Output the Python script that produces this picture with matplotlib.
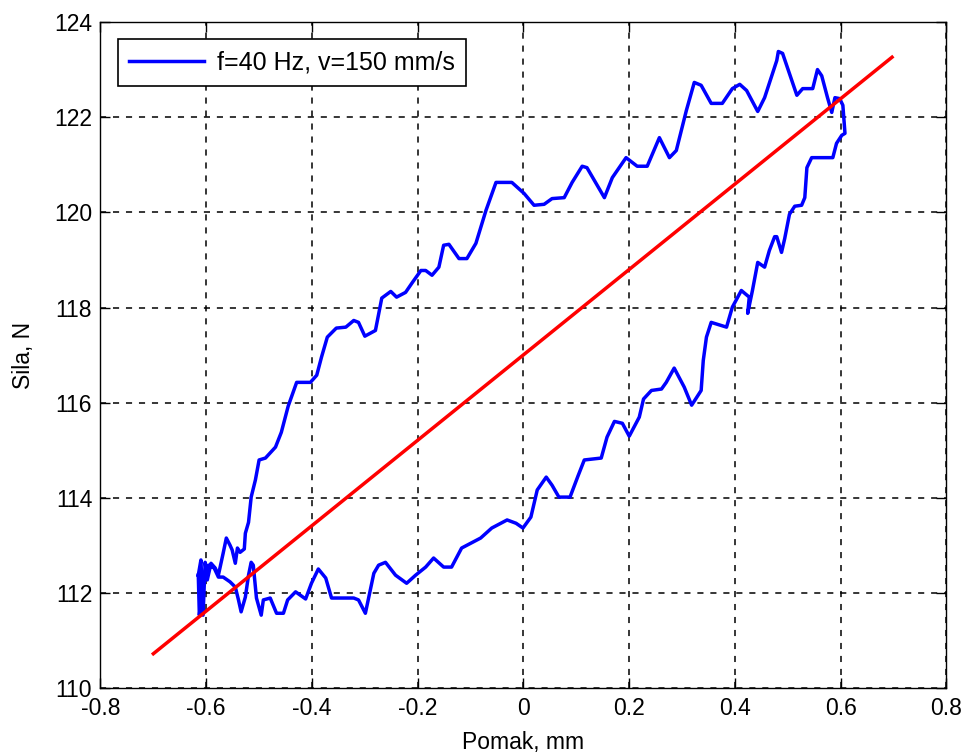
import matplotlib
matplotlib.use('Agg')
import matplotlib.pyplot as plt
import numpy as np

plt.rcParams['font.family'] = ['Liberation Sans', 'DejaVu Sans']
plt.rcParams['axes.unicode_minus'] = False

# hysteresis loop, displacement (mm) vs force (N)
pomak = [
    -0.615, -0.610, -0.606, -0.602, -0.598, -0.591, -0.583, -0.577, -0.568, -0.562,
    -0.555, -0.551, -0.545, -0.541, -0.536, -0.528, -0.526, -0.520, -0.515, -0.507,
    -0.500, -0.488, -0.469, -0.458, -0.445, -0.429, -0.403, -0.391, -0.382, -0.371,
    -0.354, -0.336, -0.321, -0.312, -0.300, -0.280, -0.268, -0.251, -0.240, -0.223,
    -0.210, -0.194, -0.185, -0.173, -0.160, -0.151, -0.141, -0.122, -0.107, -0.090,
    -0.071, -0.052, -0.022, 0.001, 0.020, 0.039, 0.054, 0.077, 0.092, 0.111,
    0.120, 0.153, 0.168, 0.194, 0.215, 0.234, 0.257, 0.276, 0.289, 0.308,
    0.323, 0.336, 0.355, 0.376, 0.395, 0.409, 0.422, 0.443, 0.456, 0.479,
    0.482, 0.490, 0.517, 0.528, 0.547, 0.556, 0.564, 0.575, 0.583, 0.589,
    0.598, 0.604, 0.608, 0.602, 0.592, 0.585, 0.545, 0.536, 0.532, 0.526,
    0.513, 0.503, 0.494, 0.488, 0.479, 0.475, 0.465, 0.456, 0.443, 0.433,
    0.424, 0.427, 0.412, 0.395, 0.384, 0.355, 0.346, 0.340, 0.336, 0.318,
    0.304, 0.285, 0.270, 0.261, 0.242, 0.227, 0.219, 0.200, 0.187, 0.172,
    0.158, 0.147, 0.115, 0.103, 0.088, 0.067, 0.054, 0.043, 0.026, 0.014,
    -0.001, -0.014, -0.031, -0.060, -0.081, -0.100, -0.117, -0.136, -0.151, -0.170,
    -0.185, -0.204, -0.221, -0.242, -0.261, -0.274, -0.283, -0.299, -0.312, -0.321,
    -0.363, -0.374, -0.388, -0.401, -0.412, -0.431, -0.446, -0.454, -0.467, -0.479,
    -0.492, -0.496, -0.505, -0.511, -0.515, -0.520, -0.526, -0.534, -0.539, -0.545,
    -0.555, -0.568, -0.577, -0.585, -0.596, -0.604, -0.610, -0.613, -0.615,
]
sila = [
    112.38, 112.70, 111.54, 112.65, 112.28, 112.63, 112.53, 112.38, 112.84, 113.16,
    113.01, 112.91, 112.63, 112.95, 112.86, 112.93, 113.26, 113.49, 114.02, 114.38,
    114.80, 114.84, 115.07, 115.38, 115.93, 116.43, 116.43, 116.58, 116.96, 117.38,
    117.57, 117.59, 117.73, 117.69, 117.40, 117.52, 118.20, 118.34, 118.22, 118.32,
    118.53, 118.78, 118.78, 118.68, 118.85, 119.31, 119.33, 119.03, 119.03, 119.35,
    120.04, 120.63, 120.63, 120.40, 120.15, 120.17, 120.29, 120.31, 120.63, 120.97,
    120.94, 120.31, 120.73, 121.15, 120.97, 120.97, 121.57, 121.15, 121.30, 122.14,
    122.73, 122.67, 122.29, 122.29, 122.60, 122.69, 122.56, 122.12, 122.41, 123.19,
    123.38, 123.34, 122.46, 122.60, 122.60, 123.00, 122.87, 122.41, 122.10, 122.41,
    122.39, 122.25, 121.66, 121.62, 121.45, 121.15, 121.15, 120.94, 120.31, 120.15,
    120.13, 119.96, 119.45, 119.16, 119.49, 119.49, 119.20, 118.85, 118.95, 118.36,
    117.88, 118.22, 118.36, 118.01, 117.59, 117.69, 117.38, 116.89, 116.26, 115.95,
    116.33, 116.73, 116.43, 116.29, 116.26, 116.08, 115.70, 115.30, 115.57, 115.61,
    115.28, 114.84, 114.80, 114.46, 114.02, 114.02, 114.27, 114.44, 114.17, 113.60,
    113.37, 113.47, 113.54, 113.37, 113.16, 113.05, 112.95, 112.55, 112.55, 112.74,
    112.55, 112.38, 112.21, 112.38, 112.65, 112.59, 112.42, 111.58, 111.86, 111.90,
    111.90, 112.32, 112.51, 112.21, 111.88, 112.03, 111.86, 111.58, 111.58, 111.90,
    111.86, 111.54, 111.90, 112.59, 112.65, 112.38, 111.92, 111.61, 111.86, 112.13,
    112.24, 112.34, 112.34, 112.53, 112.59, 112.38, 111.86, 111.54, 112.38,
]

# linear fit line
fit_x = [-0.700, 0.697]
fit_y = [110.73, 123.26]

xticks = [-0.8, -0.6, -0.4, -0.2, 0, 0.2, 0.4, 0.6, 0.8]
xticklabels = ['-0.8', '-0.6', '-0.4', '-0.2', '0', '0.2', '0.4', '0.6', '0.8']
yticks = [110, 112, 114, 116, 118, 120, 122, 124]

fig = plt.figure(figsize=(9.67, 7.55), dpi=100)
ax = fig.add_axes([0.1039, 0.0881, 0.8749, 0.8828])

ax.plot(pomak, sila, color='#0000ff', linewidth=2.5, label='f=40 Hz, v=150 mm/s')
ax.plot(fit_x, fit_y, color='#ff0000', linewidth=2.5)

ax.set_xlim(-0.8, 0.8)
ax.set_ylim(110, 124)
ax.set_xticks(xticks)
ax.set_xticklabels(xticklabels)
ax.set_yticks(yticks)
ax.tick_params(direction='in', length=7, width=1, top=True, right=True,
               labelsize=16.5, pad=6, colors='black')
ax.grid(True, color='black', linestyle=(0, (4, 4.5)), linewidth=1.1)
for s in ax.spines.values():
    s.set_linewidth(1.0)

ax.set_xlabel('Pomak, mm', fontsize=16.5, labelpad=8)
ax.set_ylabel('Sila, N', fontsize=16.5, labelpad=14)

leg = ax.legend(loc='upper left', fontsize=18, frameon=True, fancybox=False,
                edgecolor='black', handlelength=3.0, borderaxespad=0.7,
                borderpad=0.45, handletextpad=0.5)
leg.get_frame().set_linewidth(1.2)
leg.get_frame().set_alpha(1)

fig.savefig('out.png', dpi=100)
